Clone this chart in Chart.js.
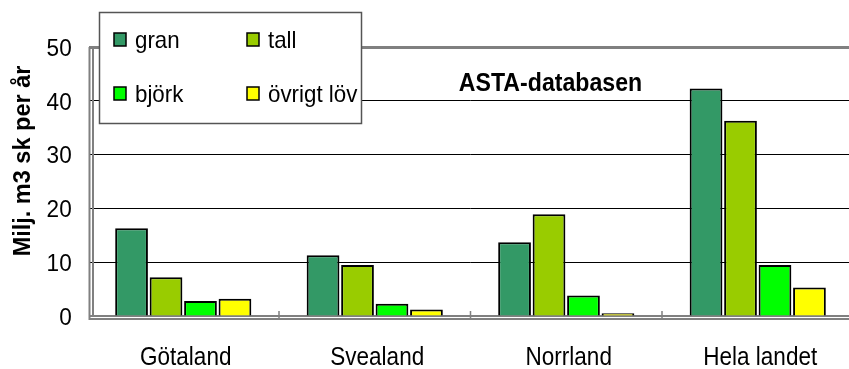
<!DOCTYPE html>
<html>
<head>
<meta charset="utf-8">
<script src="https://cdn.jsdelivr.net/npm/chart.js@4/dist/chart.umd.min.js"></script>
<style>
  html, body { margin: 0; padding: 0; background: #fff; overflow: hidden; }
  #wrap { width: 855px; height: 369px; }
</style>
</head>
<body>
<div id="wrap"><canvas id="c" width="855" height="369"></canvas></div>
<script>
// Annual volume by region and tree species (million m3sk per year)
const categories = ['Götaland', 'Svealand', 'Norrland', 'Hela landet'];
const seriesNames = ['gran', 'tall', 'björk', 'övrigt löv'];
const gran   = [16.3, 11.3, 13.7, 42.3];
const tall   = [7.2, 9.5, 18.9, 36.3];
const bjork  = [2.8, 2.3, 3.8, 9.5];
const ovrigt = [3.2, 1.2, 0.5, 5.3];
const yTicks = [0, 10, 20, 30, 40, 50];

const colors = ['#339966', '#99CC00', '#00FF00', '#FFFF00'];
const FONT = "'Liberation Sans', Arial, sans-serif";
const FRAME = '#808080';

const datasets = [gran, tall, bjork, ovrigt].map((vals, i) => ({
  label: seriesNames[i],
  data: vals,
  backgroundColor: colors[i],
  borderColor: '#000',
  borderWidth: 2,
  categoryPercentage: 0.72,
  barPercentage: 0.95
}));

// slightly condensed text, as in the office-style original
function text(ctx, str, x, y, font, sx, align) {
  ctx.save();
  ctx.translate(x, y);
  ctx.scale(sx, 1);
  ctx.font = font;
  ctx.textAlign = align;
  ctx.textBaseline = 'alphabetic';
  ctx.fillStyle = '#000';
  ctx.fillText(str, 0, 0);
  ctx.restore();
}

// plot frame (double wall line) under the bars
const frame = {
  id: 'frame',
  beforeDatasetsDraw(chart) {
    const { ctx, chartArea: a } = chart;
    ctx.save();
    ctx.fillStyle = '#fff';
    ctx.fillRect(a.left - 3, a.top - 3, 4.5, a.bottom - a.top + 8);
    ctx.strokeStyle = FRAME;
    ctx.lineWidth = 2;
    ctx.beginPath();
    // outer wall line and floor edge
    ctx.moveTo(a.left + 2, a.top);
    ctx.lineTo(a.left + 2, a.bottom + 3);
    ctx.lineTo(chart.width, a.bottom + 3);
    // inner wall line
    ctx.moveTo(a.left + 5.5, a.top + 1);
    ctx.lineTo(a.left + 5.5, a.bottom);
    ctx.stroke();
    // category separators on the floor
    const xs = chart.scales.x;
    ctx.lineWidth = 1.5;
    ctx.beginPath();
    for (let i = 0; i < categories.length - 1; i++) {
      const bx = (xs.getPixelForTick(i) + xs.getPixelForTick(i + 1)) / 2;
      ctx.moveTo(bx, a.bottom - 5);
      ctx.lineTo(bx, a.bottom + 3);
    }
    ctx.stroke();
    ctx.restore();
  }
};

// axis labels, legend panel and titles drawn on top
const overlay = {
  id: 'overlay',
  afterDraw(chart) {
    const ctx = chart.ctx;
    const xs = chart.scales.x, ys = chart.scales.y;
    yTicks.forEach(v => {
      text(ctx, String(v), 71.7, ys.getPixelForValue(v) + 8.8, '24px ' + FONT, 0.94, 'right');
    });
    categories.forEach((c, i) => {
      text(ctx, c, xs.getPixelForTick(i) + 2.5, 365, '25px ' + FONT, 0.9, 'center');
    });

    ctx.save();
    const bx = 99.5, by = 12.5, bw = 262, bh = 111;
    ctx.fillStyle = '#fff';
    ctx.fillRect(bx, by, bw, bh);
    ctx.strokeStyle = '#555';
    ctx.lineWidth = 1.5;
    ctx.strokeRect(bx, by, bw, bh);
    const cols = [114, 247];
    const rows = [33, 87];
    chart.data.datasets.forEach((ds, i) => {
      const x = cols[i % 2], y = rows[Math.floor(i / 2)];
      ctx.fillStyle = ds.backgroundColor;
      ctx.fillRect(x, y, 12, 13);
      ctx.strokeStyle = '#000';
      ctx.lineWidth = 1.5;
      ctx.strokeRect(x, y, 12, 13);
      text(ctx, ds.label, x + 21, y + 15, '24px ' + FONT, 0.93, 'left');
    });
    ctx.restore();

    text(ctx, 'ASTA-databasen', 550.5, 91, 'bold 25px ' + FONT, 0.925, 'center');

    ctx.save();
    ctx.translate(29.5, 161);
    ctx.rotate(-Math.PI / 2);
    ctx.font = 'bold 23.5px ' + FONT;
    ctx.textAlign = 'center';
    ctx.textBaseline = 'alphabetic';
    ctx.fillStyle = '#000';
    ctx.fillText('Milj. m3 sk per år', 0, 0);
    ctx.restore();
  }
};

new Chart(document.getElementById('c'), {
  type: 'bar',
  data: { labels: categories, datasets },
  options: {
    responsive: false,
    animation: false,
    layout: { padding: { top: 47, right: 1.5, left: 0, bottom: 0 } },
    plugins: { legend: { display: false }, tooltip: { enabled: false } },
    scales: {
      x: {
        offset: true,
        grid: { display: false },
        border: { display: true, color: FRAME, width: 2 },
        ticks: { display: false },
        afterFit(s) { s.height = 53; }
      },
      y: {
        min: 0, max: 50,
        afterBuildTicks(s) { s.ticks = yTicks.map(v => ({ value: v })); },
        grid: {
          drawTicks: false,
          color: c => (c.tick && c.tick.value === 50) ? FRAME : (c.tick && c.tick.value === 0 ? 'rgba(0,0,0,0)' : '#000'),
          lineWidth: c => (c.tick && c.tick.value === 50) ? 3 : 1
        },
        border: { display: false },
        ticks: { display: false },
        afterFit(s) { s.width = 87.5; }
      }
    }
  },
  plugins: [frame, overlay]
});
</script>
</body>
</html>
